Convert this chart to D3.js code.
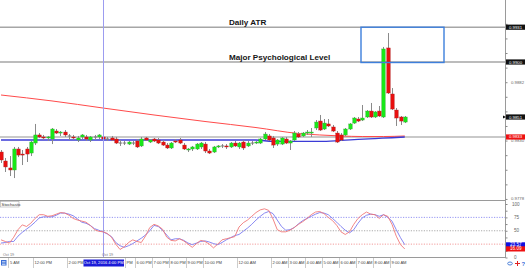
<!DOCTYPE html>
<html><head><meta charset="utf-8">
<script src="https://cdn.jsdelivr.net/npm/d3@7"></script>
<style>html,body{margin:0;padding:0;background:#fff;}svg{display:block;font-family:"Liberation Sans",Arial,sans-serif;}</style>
</head><body><svg id="c" width="525" height="268"></svg>
<script>
// ---- data (15-minute candles, Oct 19 10:00 AM -> Oct 20 9:45 AM) ----
const opens  = [0.98198,0.98118,0.98056,0.98038,0.98225,0.98180,0.98225,0.98189,0.98278,0.98350,0.98332,0.98323,0.98314,0.98385,0.98367,0.98376,0.98341,0.98332,0.98305,0.98332,0.98332,0.98305,0.98332,0.98332,0.98332,0.98314,0.98323,0.98314,0.98278,0.98278,0.98269,0.98278,0.98296,0.98252,0.98323,0.98287,0.98314,0.98305,0.98287,0.98260,0.98234,0.98296,0.98305,0.98260,0.98216,0.98225,0.98225,0.98243,0.98269,0.98207,0.98198,0.98243,0.98252,0.98252,0.98243,0.98278,0.98243,0.98287,0.98252,0.98278,0.98278,0.98278,0.98314,0.98341,0.98323,0.98269,0.98269,0.98314,0.98278,0.98305,0.98358,0.98341,0.98367,0.98367,0.98412,0.98474,0.98403,0.98448,0.98421,0.98367,0.98350,0.98350,0.98403,0.98456,0.98492,0.98483,0.98510,0.98563,0.98510,0.98563,0.98510,0.99125,0.98715,0.98572,0.98510,0.98465];
const highs  = [0.98216,0.98145,0.98162,0.98243,0.98243,0.98216,0.98243,0.98296,0.98448,0.98367,0.98350,0.98341,0.98412,0.98403,0.98385,0.98394,0.98358,0.98350,0.98341,0.98358,0.98350,0.98341,0.98350,0.98358,0.98350,0.98332,0.98341,0.98332,0.98305,0.98296,0.98296,0.98296,0.98314,0.98332,0.98332,0.98314,0.98323,0.98323,0.98305,0.98278,0.98287,0.98314,0.98323,0.98278,0.98234,0.98252,0.98278,0.98287,0.98287,0.98225,0.98252,0.98260,0.98269,0.98269,0.98287,0.98296,0.98287,0.98305,0.98296,0.98296,0.98296,0.98323,0.98376,0.98358,0.98341,0.98314,0.98332,0.98332,0.98305,0.98385,0.98376,0.98376,0.98394,0.98412,0.98483,0.98528,0.98492,0.98492,0.98439,0.98385,0.98367,0.98412,0.98456,0.98510,0.98510,0.98617,0.98572,0.98635,0.98563,0.98608,0.99134,0.99258,0.98768,0.98590,0.98519,0.98519];
const lows   = [0.98100,0.98020,0.97984,0.97966,0.98153,0.98082,0.98109,0.98162,0.98260,0.98323,0.98305,0.98296,0.98269,0.98358,0.98341,0.98332,0.98305,0.98305,0.98287,0.98314,0.98296,0.98287,0.98305,0.98314,0.98305,0.98296,0.98296,0.98269,0.98252,0.98260,0.98260,0.98260,0.98234,0.98243,0.98296,0.98278,0.98287,0.98269,0.98252,0.98225,0.98225,0.98278,0.98269,0.98216,0.98198,0.98207,0.98216,0.98225,0.98189,0.98180,0.98189,0.98234,0.98234,0.98225,0.98234,0.98243,0.98225,0.98216,0.98243,0.98260,0.98269,0.98269,0.98305,0.98296,0.98234,0.98252,0.98260,0.98269,0.98216,0.98296,0.98323,0.98332,0.98350,0.98332,0.98394,0.98385,0.98394,0.98421,0.98376,0.98278,0.98296,0.98341,0.98394,0.98448,0.98465,0.98474,0.98501,0.98501,0.98501,0.98510,0.98501,0.98715,0.98572,0.98430,0.98439,0.98456];
const closes = [0.98127,0.98065,0.98038,0.98225,0.98171,0.98171,0.98180,0.98287,0.98350,0.98332,0.98323,0.98332,0.98403,0.98367,0.98376,0.98350,0.98341,0.98323,0.98323,0.98350,0.98314,0.98332,0.98332,0.98350,0.98314,0.98314,0.98305,0.98278,0.98278,0.98278,0.98287,0.98278,0.98243,0.98314,0.98305,0.98305,0.98296,0.98278,0.98260,0.98234,0.98278,0.98287,0.98278,0.98225,0.98225,0.98243,0.98269,0.98278,0.98207,0.98189,0.98243,0.98252,0.98252,0.98243,0.98278,0.98252,0.98278,0.98234,0.98278,0.98278,0.98287,0.98314,0.98358,0.98305,0.98260,0.98305,0.98323,0.98278,0.98296,0.98367,0.98332,0.98367,0.98376,0.98376,0.98465,0.98394,0.98456,0.98430,0.98385,0.98287,0.98305,0.98403,0.98448,0.98501,0.98474,0.98501,0.98563,0.98510,0.98555,0.98519,0.99116,0.98724,0.98581,0.98501,0.98474,0.98510];

// moving averages (read at selected candles)
const maSlowIdx = [0,12,24,36,48,60,70,75,80,85,90,95];
const maSlowVal = [0.98706,0.98653,0.98590,0.98528,0.98470,0.98416,0.98363,0.98350,0.98341,0.98336,0.98336,0.98341];
const maFastIdx = [0,20,40,60,64,75,80,84,88,92,95];
const maFastVal = [0.98305,0.98305,0.98305,0.98305,0.98292,0.98292,0.98301,0.98310,0.98318,0.98325,0.98332];

// stochastic oscillator
const stochMain = [33,30,27,38,52,61,58,64,73,80,80,77,78,81,84,83,79,73,70,68,66,60,52,49,48,45,38,25,15,20,28,33,30,28,40,56,62,59,53,38,32,31,35,31,25,19,26,32,30,25,18,25,33,35,37,39,57,65,70,77,84,89,91,88,72,52,48,48,51,56,62,67,73,80,85,86,82,75,69,60,48,43,48,62,73,80,85,81,80,73,80,77,62,40,24,16];
const stochSignal = [27,28,30,30,40,47,53,59,66,74,76,76,76,79,83,83,81,78,72,66,64,60,54,51,48,44,39,28,22,19,22,26,31,36,42,50,60,58,51,42,33,35,35,32,27,24,27,30,31,29,26,24,28,33,37,41,43,49,55,62,70,77,83,86,82,70,58,51,52,56,63,69,73,77,81,84,83,80,73,66,58,51,46,52,64,74,79,81,80,77,80,75,68,52,37,24];
const stochLevels = [75,50,25];
const stochLastMain = 16.09, stochLastSignal = 23.57;

// levels and axis labels
const atrLevel = 0.9931, psychLevel = 0.9900, markLevel = 0.9851, bidLevel = 0.98332;
const priceTickLabels = [0.9882,0.9830,0.9778];
const timeLabelIdx = [8,16,32,36,40,44,48,56,64,68,72,76,80,84,88,92];
const timeLabelTxt = ["12:00 PM","2:00 PM","6:00 PM","7:00 PM","8:00 PM","9:00 PM","10:00 PM","12:00 AM","2:00 AM","3:00 AM","4:00 AM","5:00 AM","6:00 AM","7:00 AM","8:00 AM","9:00 AM"];
const crossIdx = 24, crossLabel = "Oct 19, 2016 4:00 PM";

// ---- drawing ----
const svg = d3.select("#c");
const n = opens.length;
const x = d3.scaleLinear().domain([0, n-1]).range([1, 404.75]);
const y = d3.scaleLinear().domain([0.9900, 0.9851]).range([62, 117]);
const ys = d3.scaleLinear().domain([0, 100]).range([257.5, 204]);
const AX = 505;

svg.append("rect").attr("width",525).attr("height",268).attr("fill","#fff");

const defs = svg.append("defs");
defs.append("clipPath").attr("id","mainClip").append("rect").attr("x",0).attr("y",0).attr("width",AX).attr("height",200);
defs.append("clipPath").attr("id","stClip").append("rect").attr("x",0).attr("y",201.5).attr("width",AX).attr("height",56);

const main = svg.append("g").attr("clip-path","url(#mainClip)");

[atrLevel, psychLevel].forEach(v=>{
  main.append("line").attr("x1",0).attr("x2",AX).attr("y1",y(v)).attr("y2",y(v))
    .attr("stroke","#a6a6a6").attr("stroke-width",1.4);
});
main.append("line").attr("x1",0).attr("x2",AX).attr("y1",y(bidLevel)).attr("y2",y(bidLevel))
  .attr("stroke","#c9c9c9").attr("stroke-width",2.2);

svg.append("line").attr("x1",x(crossIdx)+0.5).attr("x2",x(crossIdx)+0.5).attr("y1",0).attr("y2",257)
  .attr("stroke","#9c9cf0").attr("stroke-width",1);

const lineMA = d3.line().x(d=>x(d[0])).y(d=>y(d[1])).curve(d3.curveMonotoneX);
main.append("path").attr("d", lineMA(maSlowIdx.map((d,i)=>[d,maSlowVal[i]])))
  .attr("fill","none").attr("stroke","#ff4b4b").attr("stroke-width",1);
main.append("path").attr("d", lineMA(maFastIdx.map((d,i)=>[d,maFastVal[i]])))
  .attr("fill","none").attr("stroke","#3b3bd6").attr("stroke-width",1.3);

const cg = main.append("g");
for (let i=0;i<n;i++){
  const o=opens[i], c=closes[i];
  const xc = Math.round(x(i))+0.5;
  cg.append("line").attr("x1",xc).attr("x2",xc).attr("y1",y(highs[i])).attr("y2",y(lows[i]))
    .attr("stroke","#8a8a8a").attr("stroke-width",1);
  const top = Math.min(y(o),y(c)), h = Math.abs(y(o)-y(c));
  const up = c>o, doji = Math.abs(c-o)<0.00001;
  cg.append("rect").attr("x",xc-1.7).attr("width",3.4).attr("y",doji?top-0.5:top).attr("height",Math.max(1,h))
    .attr("fill", doji? "#777" : (up? "#18e818" : "#e80f0f"))
    .attr("stroke", doji? "none" : (up? "#3aa83a" : "#b02020")).attr("stroke-width",0.4);
}

const ann = svg.append("g").attr("font-weight","bold").attr("font-size",8.1).attr("fill","#151515");
ann.append("text").attr("x",229).attr("y",y(atrLevel)-2.6).text("Daily ATR");
ann.append("text").attr("x",229).attr("y",y(psychLevel)-2.4).text("Major Psychological Level");
svg.append("rect").attr("x",x(84)+3).attr("y",y(atrLevel)).attr("width",83).attr("height",y(psychLevel)-y(atrLevel)+0.5)
  .attr("fill","none").attr("stroke","#3d7fdc").attr("stroke-width",1.4);

svg.append("line").attr("x1",0).attr("x2",AX).attr("y1",200.5).attr("y2",200.5).attr("stroke","#9a9a9a").attr("stroke-width",1);
svg.append("line").attr("x1",0).attr("x2",AX).attr("y1",257.5).attr("y2",257.5).attr("stroke","#9a9a9a").attr("stroke-width",1);
svg.append("line").attr("x1",AX+0.5).attr("x2",AX+0.5).attr("y1",0).attr("y2",258).attr("stroke","#9a9a9a").attr("stroke-width",1);

const minorTicks = d3.range(0,13).map(k=>+(0.9778+0.0013*k).toFixed(4));
svg.append("g").attr("transform",`translate(${AX+0.5},0)`)
  .call(d3.axisRight(y).tickValues(minorTicks).tickSize(2).tickFormat(""))
  .call(g=>{g.select(".domain").remove(); g.selectAll("line").attr("stroke","#888");});
const pl = svg.append("g").attr("font-size",4.3);
priceTickLabels.forEach(v=>{
  pl.append("text").attr("x",511).attr("y",y(v)+1.5).attr("fill","#666").text(v.toFixed(4));
});
function box(yy, fill, txt){
  pl.append("rect").attr("x",AX+1).attr("y",yy-2.6).attr("width",20).attr("height",5.2).attr("fill",fill);
  pl.append("text").attr("x",509).attr("y",yy+1.5).attr("fill","#fff").text(txt);
}
box(y(atrLevel), "#111", atrLevel.toFixed(4));
box(y(psychLevel), "#111", psychLevel.toFixed(4));
box(y(markLevel), "#111", markLevel.toFixed(4));
pl.append("path").attr("d",`M${AX-2},${y(markLevel)-1.6}L${AX+1},${y(markLevel)}L${AX-2},${y(markLevel)+1.6}Z`).attr("fill","#111");
box(y(bidLevel), "#ee1111", bidLevel.toFixed(4));

const st = svg.append("g").attr("clip-path","url(#stClip)");
const lvlColors = ["#8a8af0","#a0a0a0","#f09090"];
stochLevels.forEach((v,k)=>{
  st.append("line").attr("x1",0).attr("x2",AX).attr("y1",ys(v)).attr("y2",ys(v))
    .attr("stroke",lvlColors[k]).attr("stroke-width",0.9).attr("stroke-dasharray","1.2,1.4");
});
const stLine = d3.line().x((d,i)=>x(i)).y(d=>ys(d));
st.append("path").attr("d",stLine(stochSignal)).attr("fill","none").attr("stroke","#7a7af0").attr("stroke-width",0.9);
st.append("path").attr("d",stLine(stochMain)).attr("fill","none").attr("stroke","#f07878").attr("stroke-width",0.9);

svg.append("rect").attr("x",0.5).attr("y",201.5).attr("width",18.5).attr("height",5.5).attr("fill","#fff").attr("stroke","#aaa").attr("stroke-width",0.6);
svg.append("text").attr("x",1.6).attr("y",205.8).attr("font-size",4.2).attr("fill","#333").text("Stochastic");

svg.append("g").attr("transform",`translate(${AX+0.5},0)`)
  .call(d3.axisRight(ys).tickValues(d3.range(0,101,12.5)).tickSize(2).tickFormat(""))
  .call(g=>{g.select(".domain").remove(); g.selectAll("line").attr("stroke","#888");});
const sl = svg.append("g").attr("font-size",4.6).attr("fill","#666");
[100,75,50,0].forEach(v=>{ sl.append("text").attr("x",v===100?512:514).attr("y",ys(v)+1.6).text(v); });
sl.append("rect").attr("x",AX+1).attr("y",ys(stochLastSignal)-2.6).attr("width",20).attr("height",5.2).attr("fill","#1010e0");
sl.append("text").attr("x",510).attr("y",ys(stochLastSignal)+1.6).attr("fill","#fff").text(stochLastSignal.toFixed(2));
sl.append("rect").attr("x",AX+1).attr("y",ys(stochLastMain)-2.6).attr("width",20).attr("height",5.2).attr("fill","#ee1111");
sl.append("text").attr("x",510).attr("y",ys(stochLastMain)+1.6).attr("fill","#fff").text(stochLastMain.toFixed(2));

svg.append("text").attr("x",3).attr("y",256.3).attr("font-size",3.8).attr("fill","#777").text("Oct 19");
svg.append("text").attr("x",x(crossIdx)-1).attr("y",256.3).attr("font-size",3.8).attr("fill","#777").text("Oct 19");

const ta = svg.append("g").attr("font-size",4.1).attr("fill","#444");
ta.append("line").attr("x1",8.5).attr("x2",8.5).attr("y1",258).attr("y2",268).attr("stroke","#aaa").attr("stroke-width",0.6);
ta.append("text").attr("x",10).attr("y",264.4).text("5 AM");
timeLabelIdx.forEach((idx,k)=>{
  const xx = Math.round(x(idx))-1.5;
  ta.append("line").attr("x1",xx).attr("x2",xx).attr("y1",258).attr("y2",268).attr("stroke","#aaa").attr("stroke-width",0.6);
  ta.append("text").attr("x",xx+1).attr("y",264.4).text(timeLabelTxt[k]);
});
const cx = x(crossIdx)+0.5;
ta.append("line").attr("x1",cx+22).attr("x2",cx+22).attr("y1",258).attr("y2",268).attr("stroke","#aaa").attr("stroke-width",0.6);
ta.append("text").attr("x",cx+23).attr("y",264.4).text("PM");
ta.append("rect").attr("x",cx-20).attr("y",259.5).attr("width",40.5).attr("height",7).attr("fill","#1a1ad8");
ta.append("text").attr("x",cx+0.2).attr("y",264.4).attr("text-anchor","middle").attr("fill","#fff").text(crossLabel);

const ic = svg.append("g");
ic.append("rect").attr("x",1).attr("y",260).attr("width",5.5).attr("height",5.5).attr("fill","#3a6fd8");
[261.5,263,264.5].forEach(yy=>ic.append("line").attr("x1",2).attr("x2",5.5).attr("y1",yy).attr("y2",yy).attr("stroke","#fff").attr("stroke-width",0.6));
ic.append("ellipse").attr("cx",510).attr("cy",263.5).attr("rx",2.3).attr("ry",1.5).attr("fill","none").attr("stroke","#4a7fd8").attr("stroke-width",1);
ic.append("path").attr("d","M515,263.5h5M517.5,261v5").attr("stroke","#e02020").attr("stroke-width",1);
ic.append("text").attr("x",521.5).attr("y",266).attr("font-size",6).attr("font-weight","bold").attr("fill","#3a6fd8").text("?");
</script></body></html>
